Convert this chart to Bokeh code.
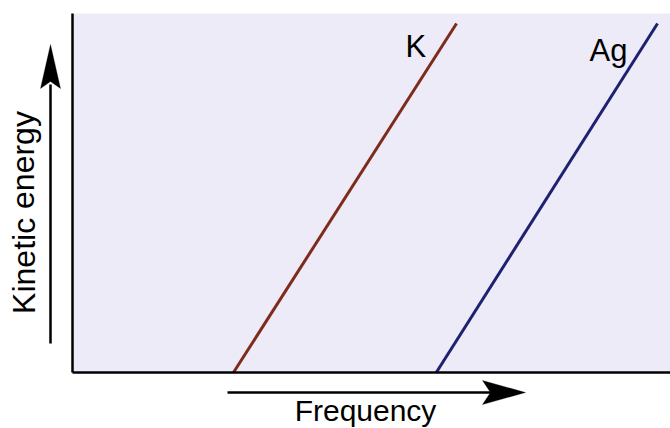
from bokeh.plotting import figure
from bokeh.models import Arrow, Label, Range1d, FixedTicker, BoxAnnotation, PolyAnnotation
from bokeh.embed import file_html
from bokeh.resources import INLINE

# Data (arbitrary units): frequency vs kinetic energy of photoelectrons
metals = ["K", "Ag"]
freq_K = [1.615, 3.853]
ke_K = [0.0, 9.72]
freq_Ag = [3.65, 5.87]
ke_Ag = [0.0, 9.72]

FONT = "Liberation Sans"
W, H = 670, 428
X0, Y0 = 72, 372          # pixel position of the axes origin
PX_X, PX_Y = 598 / 6.0, 359 / 10.0   # pixels per data unit


def dx(px):
    return (px - X0) / PX_X


def dy(py):
    return (Y0 - py) / PX_Y


p = figure(width=W, height=H,
           x_range=Range1d(dx(0), dx(W)),
           y_range=Range1d(dy(H), dy(0)),
           output_backend="svg", toolbar_location=None,
           min_border=0)
p.border_fill_color = "white"
p.background_fill_color = "white"
p.outline_line_color = None
p.grid.visible = False
p.xaxis.fixed_location = 0
p.yaxis.fixed_location = 0
p.xaxis.bounds = (0, 6)
p.yaxis.bounds = (0, 10)
for ax in p.axis:
    ax.ticker = FixedTicker(ticks=[])
    ax.major_tick_line_color = None
    ax.minor_tick_line_color = None
    ax.major_label_text_font_size = "0px"
    ax.axis_line_color = "black"
    ax.axis_line_width = 2.5

# shaded panel
p.add_layout(BoxAnnotation(left=0, bottom=0, top=10, fill_color="#EDEBF8", fill_alpha=1.0,
                           line_color=None, level="underlay"))

p.line(freq_K, ke_K, line_color="#7E2B1B", line_width=3)
p.line(freq_Ag, ke_Ag, line_color="#1F2170", line_width=3)

p.add_layout(Label(x=dx(405), y=dy(46), text=metals[0], text_font=FONT, text_font_size="31px",
                   text_color="black", text_align="left", text_baseline="alphabetic"))
p.add_layout(Label(x=dx(589), y=dy(50), text=metals[1], text_font=FONT, text_font_size="31px",
                   text_color="black", text_align="left", text_baseline="alphabetic"))

# axis arrows (shaft + swept head)
p.add_layout(Arrow(end=None, x_start=dx(50), y_start=dy(343), x_end=dx(50), y_end=dy(84),
                   line_color="black", line_width=2.5))
p.add_layout(PolyAnnotation(xs=[dx(50), dx(60), dx(50), dx(40)],
                            ys=[dy(44), dy(88), dy(81), dy(88)],
                            fill_color="black", fill_alpha=1.0, line_color="black", line_width=1))
p.add_layout(Arrow(end=None, x_start=dx(227), y_start=dy(392), x_end=dx(492), y_end=dy(392),
                   line_color="black", line_width=2.5))
p.add_layout(PolyAnnotation(xs=[dx(525), dx(482), dx(490), dx(482)],
                            ys=[dy(392), dy(380), dy(392), dy(404)],
                            fill_color="black", fill_alpha=1.0, line_color="black", line_width=1))

# axis titles
p.add_layout(Label(x=dx(23), y=dy(212), text="Kinetic energy", angle=1.5708, text_font=FONT,
                   text_font_size="32px", text_color="black",
                   text_align="center", text_baseline="alphabetic"))
p.add_layout(Label(x=dx(365), y=dy(410), text="Frequency", text_font=FONT,
                   text_font_size="30px", text_color="black",
                   text_align="center", text_baseline="alphabetic"))

open("out.html", "w").write(file_html(p, INLINE))
